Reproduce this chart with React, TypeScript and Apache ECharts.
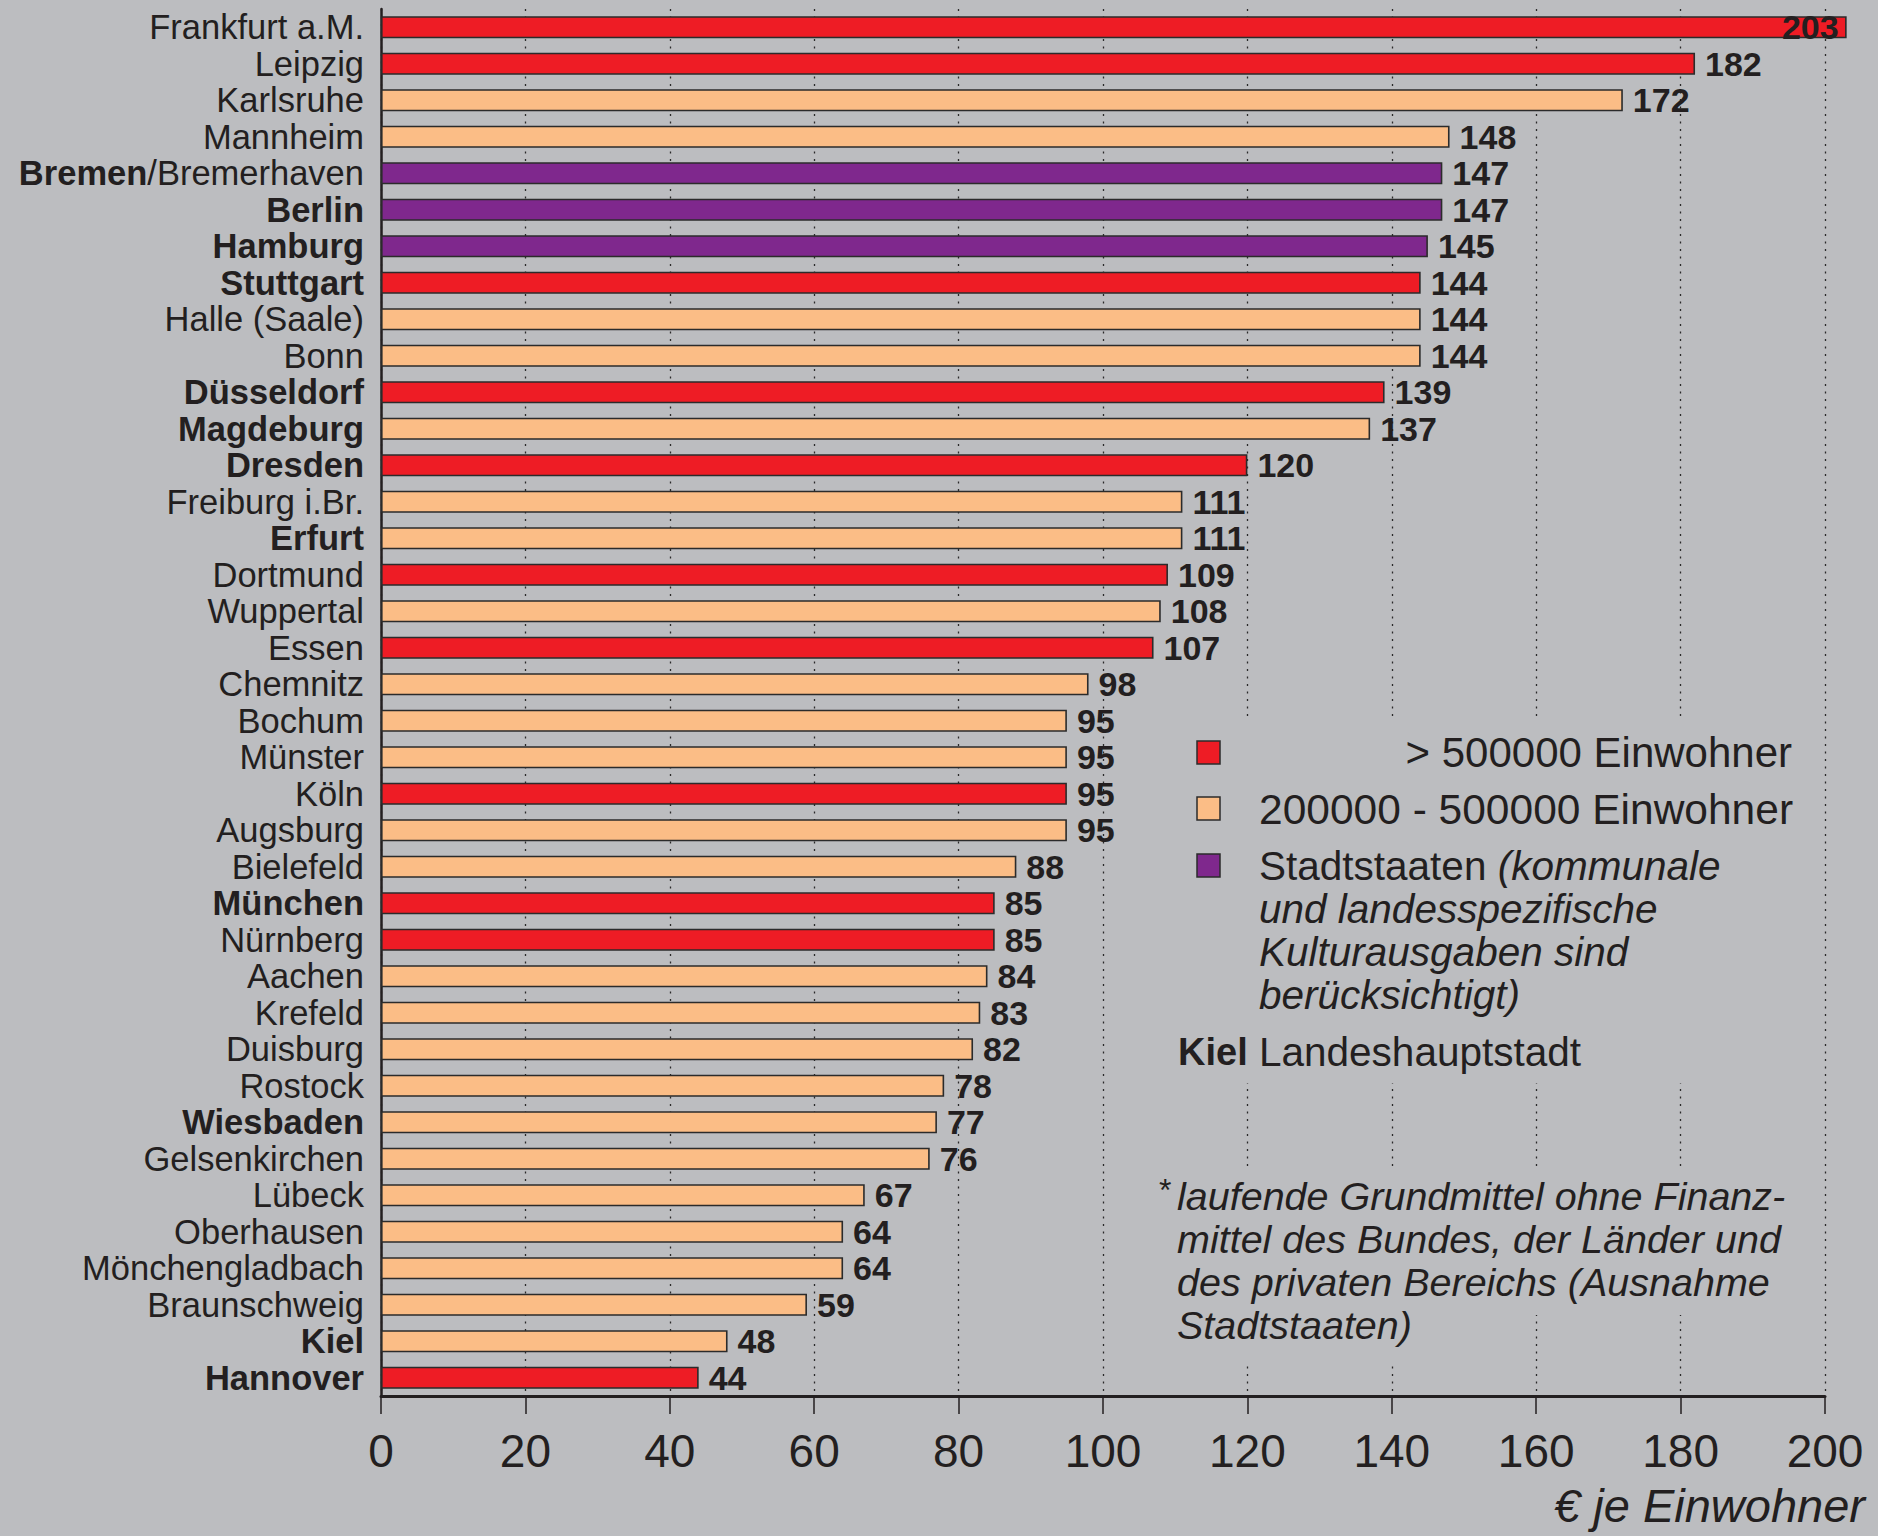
import { useEffect, useRef } from 'react';
import * as echarts from 'echarts';

// ---------- data ----------
const categories = [
  'Frankfurt a.M.', 'Leipzig', 'Karlsruhe', 'Mannheim', 'Bremen/Bremerhaven', 'Berlin', 'Hamburg',
  'Stuttgart', 'Halle (Saale)', 'Bonn', 'Düsseldorf', 'Magdeburg', 'Dresden', 'Freiburg i.Br.',
  'Erfurt', 'Dortmund', 'Wuppertal', 'Essen', 'Chemnitz', 'Bochum', 'Münster', 'Köln', 'Augsburg',
  'Bielefeld', 'München', 'Nürnberg', 'Aachen', 'Krefeld', 'Duisburg', 'Rostock', 'Wiesbaden',
  'Gelsenkirchen', 'Lübeck', 'Oberhausen', 'Mönchengladbach', 'Braunschweig', 'Kiel', 'Hannover',
];
const values = [
  203, 182, 172, 148, 147, 147, 145, 144, 144, 144, 139, 137, 120, 111, 111, 109, 108, 107, 98,
  95, 95, 95, 95, 88, 85, 85, 84, 83, 82, 78, 77, 76, 67, 64, 64, 59, 48, 44,
];
// 0 = > 500000 Einwohner, 1 = 200000 - 500000 Einwohner, 2 = Stadtstaaten
const groups = [
  0, 0, 1, 1, 2, 2, 2, 0, 1, 1, 0, 1, 0, 1, 1, 0, 1, 0, 1, 1, 1, 0, 1, 1, 0, 0, 1, 1, 1, 1, 1, 1,
  1, 1, 1, 1, 1, 0,
];
const capitals = [
  'Bremen', 'Berlin', 'Hamburg', 'Stuttgart', 'Düsseldorf', 'Magdeburg', 'Dresden', 'Erfurt',
  'München', 'Wiesbaden', 'Kiel', 'Hannover',
];
const groupColors = ['#EE1C25', '#FBBD86', '#7F288D'];
const legendLabels = ['> 500000 Einwohner', '200000 - 500000 Einwohner', 'Stadtstaaten'];
const legendNote = ['(kommunale', 'und landesspezifische', 'Kulturausgaben sind', 'berücksichtigt)'];
const capitalSample = 'Kiel';
const capitalLabel = 'Landeshauptstadt';
const footnote = [
  'laufende Grundmittel ohne Finanz-',
  'mittel des Bundes, der Länder und',
  'des privaten Bereichs (Ausnahme',
  'Stadtstaaten)',
];
const axisTitle = '€ je Einwohner';
const xMin = 0;
const xMax = 200;
const xStep = 20;

// ---------- style ----------
const BG = '#BCBDC0';
const INK = '#231F20';
const FONT = "'Liberation Sans', Arial, sans-serif";
const BORDER = '#2b2b2b';

function catLabel(v: string) {
  for (const c of capitals) {
    if (v === c) return `{b|${v}}`;
    if (v.startsWith(c + '/')) return `{b|${c}}{r|${v.slice(c.length)}}`;
  }
  return `{r|${v}}`;
}

function txt(x: number, y: number, text: string, extra: any = {}, rich?: any) {
  const align = extra.align || 'left';
  return {
    type: 'text',
    x,
    y,
    z: 10,
    style: {
      text,
      fill: INK,
      fontFamily: FONT,
      fontSize: 41,
      align,
      textAlign: align,
      verticalAlign: 'middle',
      textVerticalAlign: 'middle',
      ...extra,
      ...(rich ? { rich } : {}),
    },
  };
}

function bgRect(x: number, y: number, width: number, height: number) {
  return { type: 'rect', z: 1, shape: { x, y, width, height }, style: { fill: BG } };
}

export default function App() {
  const ref = useRef<HTMLDivElement>(null);
  useEffect(() => {
    document.body.style.margin = '0';
    const chart = echarts.init(ref.current!, null, { renderer: 'svg' });

    const data = values.map((v, i) => ({
      value: v,
      itemStyle: { color: groupColors[groups[i]] },
      label: v > xMax ? { position: 'insideRight', distance: 8 } : undefined,
    }));

    const sq = 23;
    const legendRows = [741, 797, 854];
    const graphic: any[] = [
      bgRect(1160, 720, 652, 363),
      bgRect(1150, 1167, 662, 148),
      bgRect(1150, 1315, 290, 48),
      ...legendRows.map((y, i) => ({
        type: 'rect',
        z: 10,
        shape: { x: 1197, y, width: sq, height: sq },
        style: { fill: groupColors[i], stroke: BORDER, lineWidth: 1.5 },
      })),
      txt(1792, 752, legendLabels[0], { align: 'right', fontSize: 42 }),
      txt(1259, 809, legendLabels[1], { fontSize: 42.5 }),
      txt(1259, 866, `{r|${legendLabels[2]} }{i|${legendNote[0]}}`, {}, {
        r: { fontSize: 40.5, fontFamily: FONT, fill: INK },
        i: { fontSize: 40.5, fontFamily: FONT, fontStyle: 'italic', fill: INK },
      }),
      txt(1259, 909, legendNote[1], { fontStyle: 'italic', fontSize: 40.5 }),
      txt(1259, 952, legendNote[2], { fontStyle: 'italic', fontSize: 40.5 }),
      txt(1259, 995, legendNote[3], { fontStyle: 'italic', fontSize: 40.5 }),
      txt(1178, 1052, capitalSample, { fontWeight: 'bold', fontSize: 38 }),
      txt(1259, 1052, capitalLabel, { fontSize: 40.5 }),
      txt(1159, 1190, '*', { fontSize: 32 }),
      ...footnote.map((line, i) => txt(1177, 1196 + i * 43, line, { fontStyle: 'italic', fontSize: 39.5 })),
      txt(1865, 1505, axisTitle, { align: 'right', fontStyle: 'italic', fontSize: 47 }),
    ];

    chart.setOption({
      animation: false,
      backgroundColor: BG,
      textStyle: { fontFamily: FONT, color: INK },
      grid: { left: 381, right: 53, top: 9, bottom: 140, containLabel: false },
      xAxis: {
        type: 'value',
        min: xMin,
        max: xMax,
        interval: xStep,
        axisLine: { show: true, lineStyle: { color: INK, width: 3 } },
        axisTick: { show: true, length: 18, lineStyle: { color: INK, width: 1.5 } },
        axisLabel: { fontSize: 46, color: INK, margin: 32, fontFamily: FONT },
        splitLine: { show: true, lineStyle: { color: '#2a2a2a', width: 1.3, type: [2, 5.5] } },
      },
      yAxis: {
        type: 'category',
        data: categories,
        inverse: true,
        axisLine: { show: true, lineStyle: { color: INK, width: 2.5 } },
        axisTick: { show: false },
        axisLabel: {
          margin: 17,
          formatter: catLabel,
          rich: {
            b: { fontSize: 34.5, fontWeight: 'bold', color: INK, fontFamily: FONT },
            r: { fontSize: 34.5, color: INK, fontFamily: FONT },
          },
        },
        splitLine: { show: false },
      },
      series: [
        {
          type: 'bar',
          data,
          barWidth: 22,
          clip: false,
          itemStyle: { borderColor: BORDER, borderWidth: 1.6 },
          label: {
            show: true,
            position: 'right',
            distance: 10,
            fontSize: 34,
            fontWeight: 'bold',
            color: INK,
            fontFamily: FONT,
          },
        },
      ],
      graphic,
    });
    return () => chart.dispose();
  }, []);
  return <div ref={ref} style={{ width: 1878, height: 1536 }} />;
}
